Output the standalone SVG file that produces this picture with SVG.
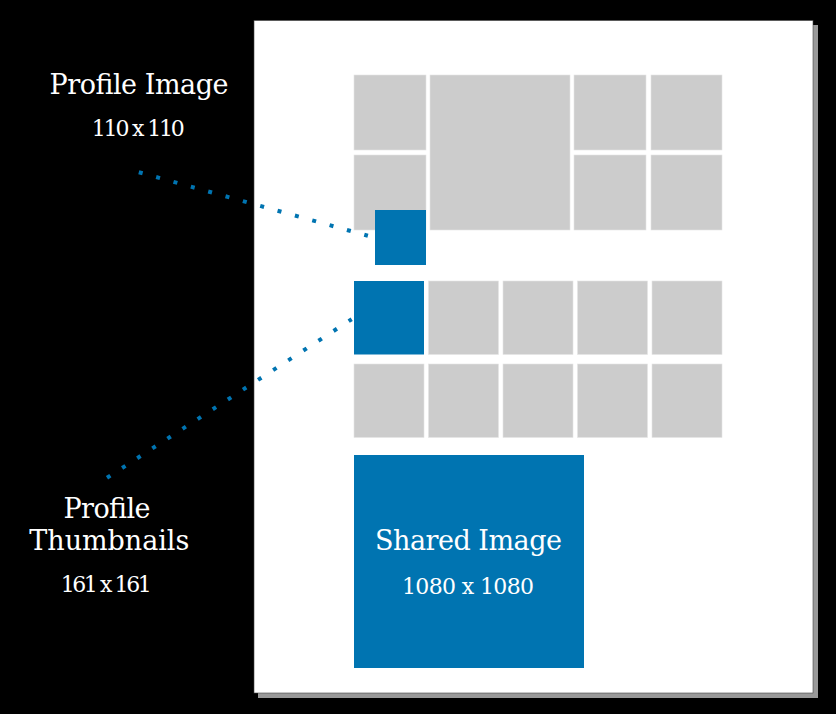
<svg xmlns="http://www.w3.org/2000/svg" width="836" height="714" viewBox="0 0 836 714">
<style>
.tile{fill:#cccccc;stroke:#e4e4e4;stroke-width:0.6}
.blue{fill:#0074b1}
.t{font-family:"DejaVu Serif","Liberation Serif",serif;fill:#ffffff;text-anchor:middle}
.title{font-size:27px}
.num{font-size:22px}
.dots{fill:none;stroke:#0074b1;stroke-width:4;stroke-dasharray:4 14}
</style>
<rect x="0" y="0" width="836" height="714" fill="#000000"/>
<g id="page">
<rect x="258" y="25" width="560" height="673" fill="#999999"/>
<rect x="254" y="20.5" width="559" height="672.5" fill="#ffffff" stroke="#444444" stroke-width="0.6"/>
</g>
<g id="grid-top">
<rect class="tile" x="354" y="75" width="72" height="75"/>
<rect class="tile" x="430" y="75" width="140" height="155"/>
<rect class="tile" x="574" y="75" width="72" height="75"/>
<rect class="tile" x="651" y="75" width="71" height="75"/>
<rect class="tile" x="354" y="155" width="72" height="75"/>
<rect class="tile" x="574" y="155" width="72" height="75"/>
<rect class="tile" x="651" y="155" width="71" height="75"/>
</g>
<g id="profile-image-box">
<rect class="blue" x="375" y="210" width="51" height="55"/>
</g>
<g id="grid-thumbs">
<rect class="tile" x="428.5" y="281" width="70" height="73.5"/>
<rect class="tile" x="503" y="281" width="70" height="73.5"/>
<rect class="tile" x="577.5" y="281" width="70" height="73.5"/>
<rect class="tile" x="652" y="281" width="70" height="73.5"/>
<rect class="tile" x="354" y="364" width="70" height="73.5"/>
<rect class="tile" x="428.5" y="364" width="70" height="73.5"/>
<rect class="tile" x="503" y="364" width="70" height="73.5"/>
<rect class="tile" x="577.5" y="364" width="70" height="73.5"/>
<rect class="tile" x="652" y="364" width="70" height="73.5"/>
</g>
<g id="profile-thumb-box">
<rect class="blue" x="354" y="281" width="70" height="73.5"/>
</g>
<g id="shared-image">
<rect class="blue" x="354" y="455" width="230" height="213"/>
<text class="t title" x="468.5" y="550" textLength="187">Shared Image</text>
<text class="t num" x="468" y="594" textLength="132">1080 x 1080</text>
</g>
<g id="connectors">
<path class="dots" d="M138.8 172.2 L367.9 235.8"/>
<path class="dots" d="M107 477.8 L351.7 319.2"/>
</g>
<g id="label-profile-image">
<text class="t title" x="139" y="94.3" textLength="179">Profile Image</text>
<text class="t num" x="138.3" y="136" textLength="93">110 x 110</text>
</g>
<g id="label-profile-thumbnails">
<text class="t title" x="107" y="518.3" textLength="87">Profile</text>
<text class="t title" x="109.3" y="550" textLength="160">Thumbnails</text>
<text class="t num" x="106.2" y="592" textLength="91">161 x 161</text>
</g>
</svg>
